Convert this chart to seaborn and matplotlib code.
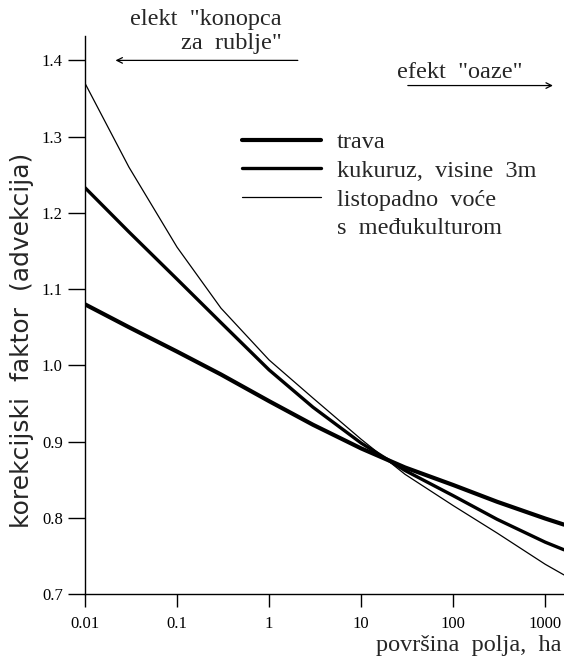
import numpy as np
import pandas as pd
import matplotlib
matplotlib.use('Agg')
import matplotlib.pyplot as plt
import seaborn as sns
from matplotlib.lines import Line2D

# površina polja (ha) and korekcijski faktor
povrsina = [0.01, 0.03, 0.1, 0.3, 1, 3, 10, 30, 100, 300, 1000, 1600]
trava = [1.080, 1.050, 1.018, 0.988, 0.953, 0.922, 0.891, 0.866, 0.843, 0.821, 0.799, 0.791]
kukuruz = [1.233, 1.175, 1.113, 1.056, 0.994, 0.945, 0.898, 0.862, 0.829, 0.798, 0.768, 0.758]
vocnjak = [1.370, 1.260, 1.155, 1.075, 1.007, 0.957, 0.903, 0.857, 0.816, 0.780, 0.739, 0.725]

labels = ['trava', 'kukuruz,  visine  3m', 'listopadno  voće']
widths = [3.0, 2.4, 0.9]
x_ticks = [0.01, 0.1, 1, 10, 100, 1000]
x_tick_labels = ['0.01', '0.1', '1', '10', '100', '1000']
y_ticks = [0.7, 0.8, 0.9, 1.0, 1.1, 1.2, 1.3, 1.4]

sns.set_style('ticks')
plt.rcParams['font.family'] = ['Liberation Serif', 'DejaVu Serif']

W, H = 564, 660
fig = plt.figure(figsize=(W / 100, H / 100), dpi=100)
ax = fig.add_axes([85 / W, 1 - 594 / H, 1 - 85 / W, (594 - 36) / H])

for series, lab, lw in zip([trava, kukuruz, vocnjak], labels, widths):
    df = pd.DataFrame({'x': povrsina, 'y': series})
    sns.lineplot(data=df, x='x', y='y', ax=ax, color='black', lw=lw, label=lab)

ax.set_xscale('log')
ax.set_xlim(0.01, 1600)
ax.set_ylim(0.7, 1.432)
ax.set_xticks(x_ticks)
ax.set_xticklabels(x_tick_labels)
ax.minorticks_off()
ax.set_yticks(y_ticks)
ax.set_yticklabels([f'{v:.1f}' for v in y_ticks])
ax.tick_params(axis='both', labelsize=12, width=1, color='black',
               labelcolor='black', direction='out')
ax.tick_params(axis='y', length=12, pad=4)
ax.tick_params(axis='x', length=9, pad=7)
sns.despine(ax=ax)
for s in ['left', 'bottom']:
    ax.spines[s].set_linewidth(1.0)
    ax.spines[s].set_color('black')
ax.set_xlabel('')
ax.set_ylabel('')

# legend with the second line of the fruit label as a blank entry
handles = [Line2D([], [], color='black', lw=lw) for lw in widths]
handles.append(Line2D([], [], color='none'))
ax.legend(handles, labels + ['s  međukulturom'], loc='upper left',
          bbox_to_anchor=((242 - 85) / (W - 85), (594 - 131) / (594 - 36)),
          frameon=False, fontsize=17.5, handlelength=3.25, handletextpad=0.65,
          labelspacing=0.28, borderaxespad=0, borderpad=0)

# y label (sans) and x label
fig.text(22 / W, 1 - 340 / H, 'korekcijski  faktor  (advekcija)', rotation=90,
         ha='center', va='center', fontsize=18, family=['DejaVu Sans'])
fig.text(561 / W, 1 - 645 / H, 'površina  polja,  ha', ha='right', va='center', fontsize=17.5)

# annotations at the top
fig.text(282 / W, 1 - 19 / H, 'elekt  "konopca', ha='right', va='center', fontsize=17.5)
fig.text(282 / W, 1 - 44 / H, 'za  rublje"', ha='right', va='center', fontsize=17.5)
fig.text(397 / W, 1 - 73 / H, 'efekt  "oaze"', ha='left', va='center', fontsize=17.5)
ax.annotate('', xy=(0.02, 1.4), xytext=(2.2, 1.4),
            arrowprops=dict(arrowstyle='->', color='black', lw=0.9))
ax.annotate('', xy=(1300, 1.367), xytext=(30, 1.367),
            arrowprops=dict(arrowstyle='->', color='black', lw=0.9))

fig.savefig('out.png', dpi=100)
